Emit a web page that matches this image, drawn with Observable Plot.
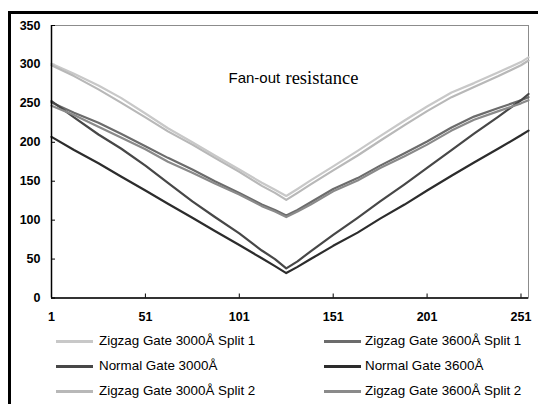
<!DOCTYPE html>
<html><head><meta charset="utf-8">
<script src="https://cdn.jsdelivr.net/npm/d3@7"></script>
<script src="https://cdn.jsdelivr.net/npm/@observablehq/plot@0.6"></script>
<style>
html,body{margin:0;padding:0;background:#fff;width:538px;height:404px;overflow:hidden;position:relative;font-family:"Liberation Sans",Arial,sans-serif}
#frame{position:absolute;left:8px;top:11px;width:600px;height:500px;border-left:3px solid #000;border-top:3px solid #000}
#chart{position:absolute;left:0;top:0}
.leg{position:absolute;display:flex;align-items:center;font-size:13.4px;line-height:16px;height:16px;color:#000;white-space:nowrap}
.leg .sw{display:inline-block;width:37px;height:3px}
</style></head><body>
<div id="frame"></div><div id="chart"></div><div id="legend"></div>
<script>
// x positions (index) of the read values
const idx = [1, 13, 26, 38, 51, 63, 76, 88, 101, 113, 120, 126, 132, 139, 151, 164, 176, 189, 201, 214, 226, 239, 251, 255];
const names = ["Zigzag Gate 3000Å Split 1", "Zigzag Gate 3600Å Split 1", "Normal Gate 3000Å", "Normal Gate 3600Å", "Zigzag Gate 3000Å Split 2", "Zigzag Gate 3600Å Split 2"];
const colors = ["#c8c8c8", "#6c6c6c", "#474747", "#2c2c2c", "#b8b8b8", "#8a8a8a"];
const zig3000s1 = [301, 288, 273, 257, 237, 218, 200, 183, 165, 148, 139, 131, 140, 151, 169, 189, 208, 228, 246, 264, 276, 290, 303, 309];
const zig3600s1 = [251, 238, 225, 211, 195, 180, 165, 150, 135, 120, 113, 106, 113, 123, 140, 154, 170, 186, 201, 219, 233, 244, 254, 258];
const norm3000  = [253, 232, 210, 192, 170, 148, 124, 104, 83, 61, 50, 38, 47, 60, 81, 103, 124, 146, 167, 190, 211, 233, 254, 262];
const norm3600  = [207, 190, 173, 156, 138, 121, 103, 86, 68, 51, 41, 32, 40, 50, 67, 84, 102, 120, 138, 157, 174, 192, 209, 215];
const zig3000s2 = [299, 285, 268, 251, 232, 214, 197, 180, 162, 144, 135, 126, 135, 146, 164, 183, 202, 222, 240, 258, 271, 285, 299, 305];
const zig3600s2 = [247, 235, 220, 206, 191, 175, 161, 147, 133, 118, 111, 104, 111, 120, 137, 151, 167, 182, 197, 215, 229, 240, 250, 254];
const xTicks = [1, 51, 101, 151, 201, 251];
const yTicks = [0, 50, 100, 150, 200, 250, 300, 350];
const titleA = "Fan-out";
const titleB = "resistance";

const seriesVals = [zig3000s1, zig3600s1, norm3000, norm3600, zig3000s2, zig3600s2];
const table = seriesVals.flatMap((vals, s) => idx.map((x, i) => ({x, y: vals[i], name: names[s]})));

const lineMarks = names.map((n, s) => Plot.line(table.filter(d => d.name === n), {
  x: "x", y: "y", stroke: colors[s], strokeWidth: 2.2, strokeLinejoin: "round"
}));

const chart = Plot.plot({
  width: 538, height: 330,
  marginLeft: 51, marginRight: 10, marginTop: 25, marginBottom: 32.5,
  style: {background: "transparent", fontFamily: "'Liberation Sans', Arial, sans-serif", color: "#000"},
  x: {domain: [1, 255], axis: null},
  y: {domain: [0, 350], axis: null},
  marks: [
    Plot.frame({stroke: "#8c8c8c"}),
    Plot.axisY(yTicks, {tickSize: 0, tickPadding: 11, fontWeight: "bold", fontSize: 12.5, label: null, fill: "#000"}),
    Plot.axisY(yTicks, {tickSize: 4, dx: 4, tickFormat: () => "", label: null, stroke: "#000"}),
    Plot.axisX(xTicks, {tickSize: 0, tickPadding: 14, fontWeight: "bold", fontSize: 12.5, label: null, fill: "#000"}),
    Plot.axisX(xTicks.slice(1), {tickSize: 4, dy: -4, tickFormat: () => "", label: null, stroke: "#000"}),
    ...lineMarks,
    Plot.ruleY([0], {stroke: "#000", strokeWidth: 1.5}),
    Plot.ruleX([1], {stroke: "#000", strokeWidth: 1.5}),
    Plot.text([titleA], {frameAnchor: "top-left", dx: 228 - 51, dy: 82.5 - 25, textAnchor: "start", lineAnchor: "bottom", fontSize: 15, fontFamily: "'Liberation Sans', Arial, sans-serif", fill: "#000"}),
    Plot.text([titleB], {frameAnchor: "top-left", dx: 285 - 51, dy: 83 - 25, textAnchor: "start", lineAnchor: "bottom", fontSize: 18.5, fontFamily: "'Liberation Serif', 'Times New Roman', serif", fill: "#000"})
  ]
});
document.getElementById("chart").appendChild(chart);

// legend (3 rows x 2 columns)
const legend = document.getElementById("legend");
const legPos = [[56, 341, 6], [324, 341, 4], [56, 366, 6], [324, 366, 4], [56, 391, 6], [324, 391, 4]];
names.forEach((n, i) => {
  const [lx, cy, gap] = legPos[i];
  const item = document.createElement("div");
  item.className = "leg";
  item.style.left = lx + "px";
  item.style.top = (cy - 8) + "px";
  const sw = document.createElement("span");
  sw.className = "sw";
  sw.style.background = colors[i];
  sw.style.marginRight = gap + "px";
  const t = document.createElement("span");
  t.textContent = n;
  item.appendChild(sw);
  item.appendChild(t);
  legend.appendChild(item);
});
</script>
</body></html>
